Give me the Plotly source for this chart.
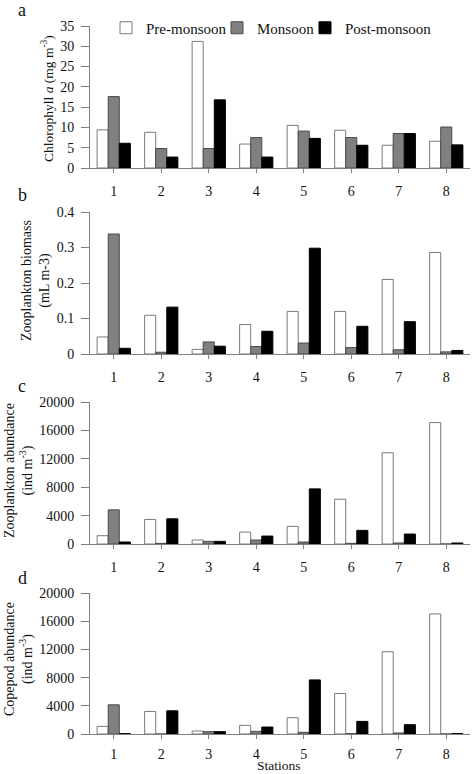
import plotly.graph_objects as go

stations = [1, 2, 3, 4, 5, 6, 7, 8]
station_labels = ["1", "2", "3", "4", "5", "6", "7", "8"]
seasons = ["Pre-monsoon", "Monsoon", "Post-monsoon"]

chl_pre = [9.4, 8.8, 31.2, 5.9, 10.5, 9.3, 5.6, 6.6]
chl_mon = [17.6, 4.8, 4.8, 7.5, 9.1, 7.5, 8.5, 10.1]
chl_post = [6.1, 2.7, 16.8, 2.7, 7.3, 5.6, 8.5, 5.7]

bio_pre = [0.048, 0.109, 0.013, 0.083, 0.120, 0.120, 0.210, 0.286]
bio_mon = [0.338, 0.005, 0.034, 0.021, 0.031, 0.018, 0.012, 0.006]
bio_post = [0.016, 0.132, 0.022, 0.064, 0.298, 0.078, 0.091, 0.010]

zoo_pre = [1170, 3460, 560, 1680, 2480, 6310, 12850, 17100]
zoo_mon = [4810, 90, 370, 560, 280, 90, 140, 0]
zoo_post = [280, 3550, 370, 1120, 7760, 1920, 1400, 140]

cop_pre = [1080, 3200, 420, 1220, 2310, 5740, 11670, 17030]
cop_mon = [4140, 0, 330, 380, 240, 50, 140, 0]
cop_post = [50, 3290, 330, 990, 7670, 1790, 1320, 50]

panels = [
    (chl_pre, chl_mon, chl_post),
    (bio_pre, bio_mon, bio_post),
    (zoo_pre, zoo_mon, zoo_post),
    (cop_pre, cop_mon, cop_post),
]
y_ranges = [[0, 35], [0, 0.4], [0, 20000], [0, 20000]]
y_dticks = [5, 0.1, 4000, 4000]
panel_letters = ["a", "b", "c", "d"]
y_titles = [
    "Chlorophyll <i>a</i> (mg m<sup>-3</sup>)",
    "Zooplankton biomass<br>(mL m-3)",
    "Zooplankton abundance<br>(ind m<sup>-3</sup>)",
    "Copepod abundance<br>(ind m<sup>-3</sup>)",
]
x_title = "Stations"

# layout geometry (pixels)
W, H = 472, 774
ML, MR, MT, MB = 90, 2, 26, 40
PW, PH = W - ML - MR, H - MT - MB
panel_px = [(26, 168), (212, 354), (402, 544), (593, 734)]
title_px = [(47, 99), (36, 281), (19, 471), (19, 659)]
title_sizes = [13.5, 14, 14, 14]
letter_px = [(22, 10), (22, 195), (22, 386), (22, 578)]
x_standoffs = [6, 6, 6, 3]
legend_widths = [66, 43, 90]

def px_x(px):
    return (px - ML) / PW

def px_y(py):
    return (H - MB - py) / PH

FONT = "Liberation Serif"
TXT = "#111111"
AX = "#808080"
fill_colors = ["#ffffff", "#808080", "#000000"]
line_colors = ["#7a7a7a", "#4a4a4a", "#000000"]

fig = go.Figure()
for i, vals in enumerate(panels):
    xa = "x" if i == 0 else f"x{i+1}"
    ya = "y" if i == 0 else f"y{i+1}"
    for j, series in enumerate(vals):
        fig.add_trace(go.Bar(
            x=stations, y=series, name=seasons[j],
            xaxis=xa, yaxis=ya,
            marker=dict(color=fill_colors[j], line=dict(color=line_colors[j], width=1)),
            showlegend=(i == 0),
            legendwidth=legend_widths[j],
        ))

layout = dict(
    template="none",
    width=W, height=H,
    margin=dict(l=ML, r=MR, t=MT, b=MB, autoexpand=False),
    paper_bgcolor="white", plot_bgcolor="white",
    barmode="group", bargap=0.3, bargroupgap=0,
    font=dict(family=FONT, size=14, color=TXT),
    showlegend=True,
    legend=dict(orientation="h", x=px_x(106), y=px_y(28), xanchor="left", yanchor="middle",
                font=dict(size=15, family=FONT, color=TXT), bgcolor="rgba(0,0,0,0)",
                borderwidth=0, itemwidth=30, traceorder="normal"),
)
annotations = []
for i in range(4):
    xk = "xaxis" if i == 0 else f"xaxis{i+1}"
    yk = "yaxis" if i == 0 else f"yaxis{i+1}"
    top, bot = panel_px[i]
    layout[xk] = dict(
        domain=[0, 1], range=[0.5, 8.5], anchor="y" if i == 0 else f"y{i+1}",
        tickmode="array", tickvals=stations, ticktext=station_labels,
        showline=True, linecolor=AX, linewidth=1,
        ticks="outside", ticklen=4, tickcolor=AX, tickwidth=1,
        showgrid=False, zeroline=False, ticklabelstandoff=x_standoffs[i], automargin=False,
        tickfont=dict(size=14, family=FONT, color=TXT),
        fixedrange=True,
    )
    layout[yk] = dict(
        domain=[px_y(bot), px_y(top)], range=y_ranges[i], dtick=y_dticks[i], tick0=0,
        anchor="x" if i == 0 else f"x{i+1}",
        showline=True, linecolor=AX, linewidth=1,
        ticks="outside", ticklen=8, tickcolor=AX, tickwidth=1,
        showgrid=False, zeroline=False, ticklabelstandoff=4, automargin=False,
        tickformat="d" if i >= 2 else "",
        tickfont=dict(size=14, family=FONT, color=TXT),
        fixedrange=True,
    )
    tx, ty = title_px[i]
    annotations.append(dict(
        text=y_titles[i], xref="paper", yref="paper", x=px_x(tx), y=px_y(ty),
        xanchor="center", yanchor="middle", textangle=-90, showarrow=False,
        font=dict(size=title_sizes[i], family=FONT, color=TXT),
    ))
    lx, ly = letter_px[i]
    annotations.append(dict(
        text=panel_letters[i], xref="paper", yref="paper", x=px_x(lx), y=px_y(ly),
        xanchor="center", yanchor="middle", showarrow=False,
        font=dict(size=18, family=FONT, color=TXT),
    ))
annotations.append(dict(
    text=x_title, xref="paper", yref="paper", x=px_x(279), y=px_y(765),
    xanchor="center", yanchor="middle", showarrow=False,
    font=dict(size=13.5, family=FONT, color=TXT),
))
layout["annotations"] = annotations
fig.update_layout(**layout)
fig.write_html("out.html", config={"displayModeBar": False, "staticPlot": True},
               post_script="document.body.style.margin='0px';document.body.style.overflow='hidden';")
